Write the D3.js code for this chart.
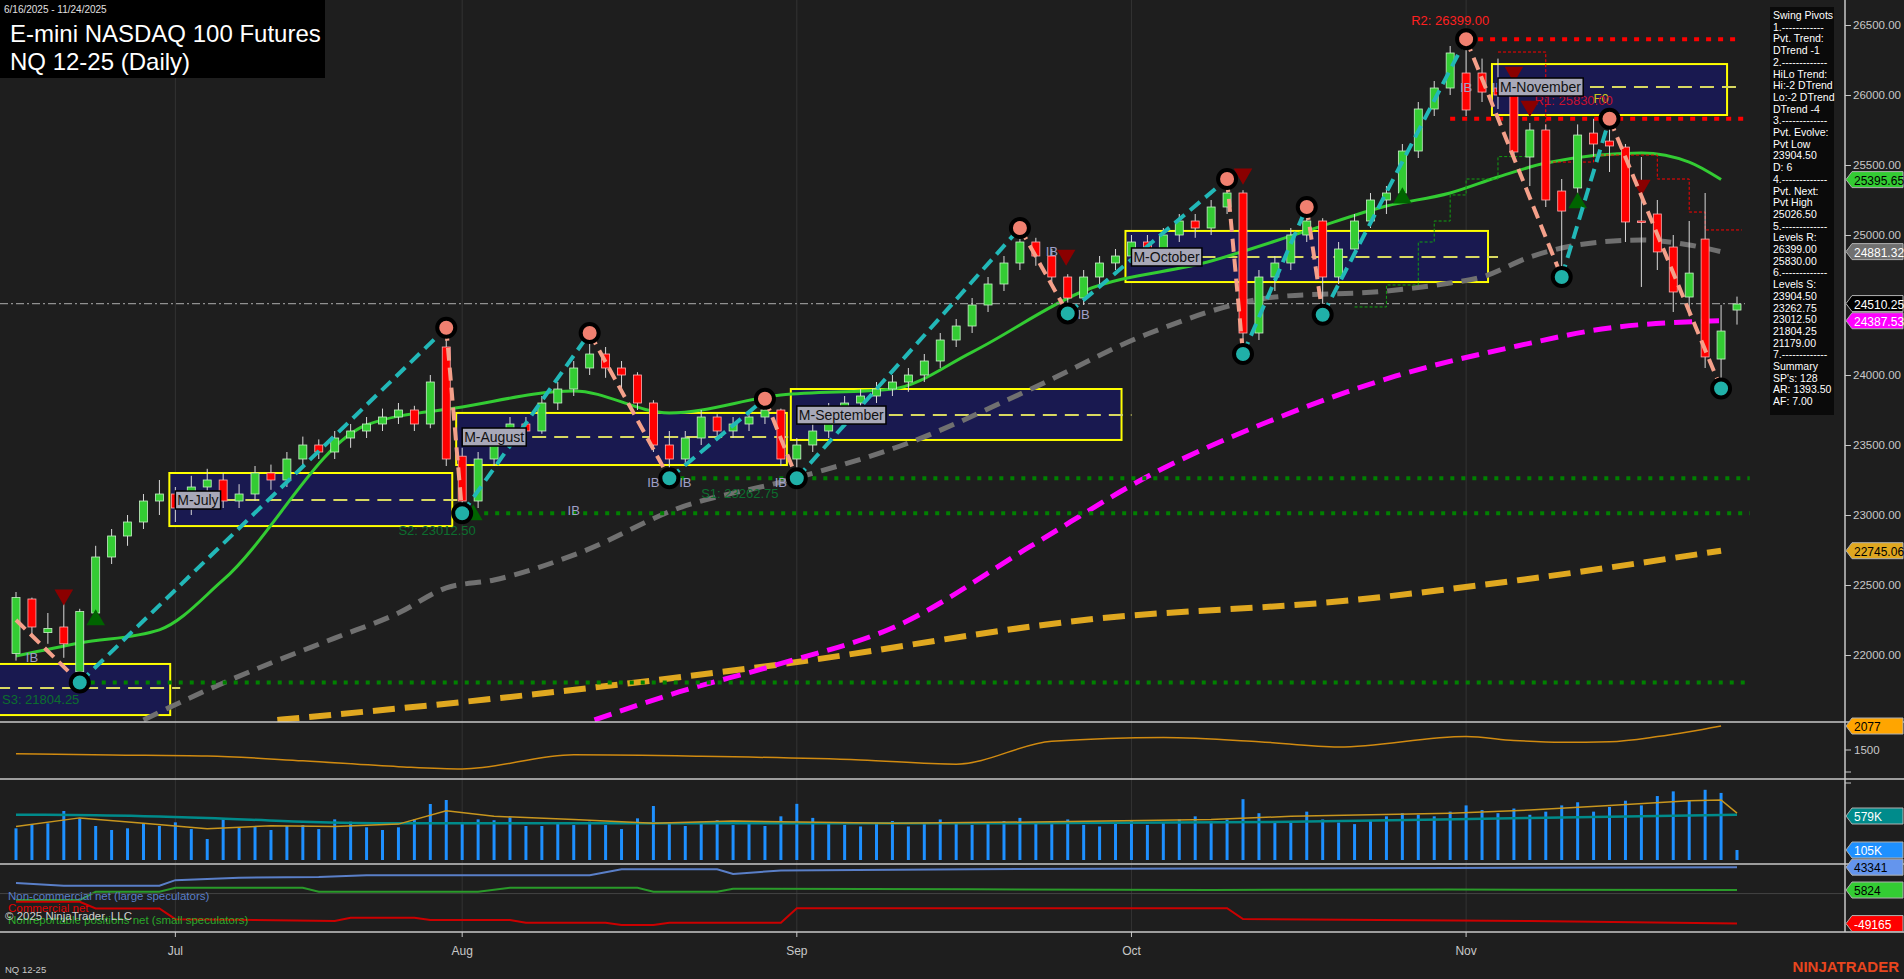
<!DOCTYPE html>
<html><head><meta charset="utf-8">
<script src="https://cdn.jsdelivr.net/npm/d3@7/dist/d3.min.js"></script>
<style>body{margin:0;background:#1e1e1e;overflow:hidden}svg{display:block}text{font-family:"Liberation Sans",Arial,sans-serif}</style>
</head><body><svg id="c" width="1904" height="979"></svg>
<script>
// ---------- DATA ----------
const ohlc = [
[22010,22450,21960,22410],[22400,22410,22150,22200],[22160,22300,22080,22190],[22200,22400,21980,22080],[21880,22330,21804,22310],
[22300,22780,22260,22700],[22700,22900,22650,22850],[22850,23000,22780,22950],[22950,23150,22900,23100],[23100,23250,23000,23150],
[23150,23200,22950,23050],[23050,23280,23000,23200],[23200,23330,23150,23250],[23250,23300,23050,23100],[23100,23220,23050,23150],
[23150,23350,23100,23300],[23300,23360,23180,23250],[23250,23450,23200,23400],[23400,23560,23350,23500],[23500,23540,23400,23450],
[23450,23600,23400,23550],[23550,23650,23480,23600],[23600,23700,23550,23650],[23650,23760,23600,23700],[23700,23800,23650,23750],
[23750,23780,23600,23650],[23650,24000,23620,23950],[24200,24337,23350,23400],[23420,23480,23012,23100],[23100,23450,23050,23400],
[23400,23600,23350,23550],[23550,23700,23500,23650],[23650,23700,23520,23600],[23600,23850,23580,23800],[23800,23950,23750,23900],
[23900,24100,23850,24050],[24050,24300,24000,24150],[24150,24200,23980,24050],[24050,24100,23900,24000],[24000,24020,23750,23800],
[23800,23820,23450,23500],[23500,23600,23262,23400],[23400,23600,23350,23550],[23550,23750,23500,23700],[23700,23720,23550,23600],
[23600,23700,23550,23650],[23650,23750,23600,23700],[23700,23830,23650,23750],[23750,23760,23350,23400],[23400,23550,23262,23500],
[23500,23650,23450,23600],[23600,23800,23550,23750],[23750,23850,23700,23800],[23800,23900,23750,23850],[23850,23950,23800,23900],
[23900,24000,23850,23950],[23950,24050,23880,24000],[24000,24150,23950,24100],[24100,24300,24050,24250],[24250,24400,24200,24350],
[24350,24550,24300,24500],[24500,24700,24450,24650],[24650,24850,24600,24800],[24800,25050,24750,24950],[24950,24980,24780,24850],
[24850,24900,24650,24700],[24700,24720,24440,24550],[24550,24750,24500,24700],[24700,24850,24650,24800],[24800,24900,24750,24850],
[24850,25000,24800,24950],[24950,25000,24850,24900],[24900,25050,24850,25000],[25000,25150,24950,25100],[25100,25150,24980,25050],
[25050,25250,25000,25200],[25200,25400,25150,25300],[25300,25320,24150,24300],[24300,24750,24250,24700],[24700,24850,24600,24800],
[24800,25050,24750,25000],[25000,25200,24950,25100],[25100,25120,24430,24700],[24700,24950,24650,24900],[24900,25150,24850,25100],
[25100,25300,25050,25250],[25250,25350,25150,25300],[25300,25650,25250,25600],[25600,25950,25550,25900],[25900,26100,25850,26050],
[26050,26350,26000,26300],[26157,26399,25850,25893],[26157,26260,25950,26021],[26050,26260,25900,26000],[26107,26200,25550,25593],
[25557,25800,25350,25750],[25750,25790,25200,25250],[25314,25400,24700,25171],[25336,25790,25200,25714],[25728,25830,25560,25650],
[25671,25830,25450,25636],[25628,25650,24950,25093],[25100,25557,24629,25090],[25150,25250,24750,24879],[24914,25000,24450,24593],
[24557,25100,24420,24728],[24971,25300,24050,24129],[24114,24500,23904,24314],[24464,24560,24360,24507]];
const volumeK = [406,462,470,628,534,436,385,406,470,436,483,397,269,521,419,436,385,436,448,397,521,491,419,385,419,521,718,769,462,521,510,547,436,436,470,448,491,448,397,534,692,
470,436,491,510,448,470,436,560,720,540,480,450,430,470,500,430,460,520,480,450,470,500,540,480,460,520,450,430,470,500,
450,480,520,560,500,520,780,600,480,500,620,520,480,460,500,560,600,580,560,620,700,640,600,660,580,620,700,740,620,680,760,700,820,880,760,900,860,128];
const monthLabels = [["Jul",10],["Aug",28],["Sep",49],["Oct",70],["Nov",91]];
const priceTicks = [26500,26000,25500,25000,24000,23500,23000,22500,22000];
const ma20 = [[0,21993],[4,22086],[9,22180],[13,22536],[22,23643],[28,23771],[35,23886],[41,23729],[48,23857],[55,23900],[60,24164],[67,24600],[75,24814],[81,25029],[86,25207],[90,25300],[93,25414],[96,25514],[102,25586],[105,25521],[107,25396]];
const ma50 = [[8,21536],[12,21750],[16,21943],[20,22121],[24,22300],[27,22479],[30,22536],[35.5,22736],[41.6,23050],[48.5,23250],[56,23514],[63.7,23900],[71,24293],[79,24557],[86,24600],[90,24657],[92,24700],[95,24843],[98,24929],[102,24964],[105,24929],[107,24881]];
const ma100 = [[36.3,21536],[41.6,21736],[47.7,21929],[55.4,22214],[63.7,22779],[71.3,23293],[79,23686],[86.6,23993],[94.2,24207],[100,24336],[107,24388]];
const ma200 = [[16.4,21536],[30.4,21693],[47.7,21929],[67.6,22257],[83.7,22390],[94.4,22536],[107,22745]];
const pivots = [[0,22250,"s"],[4,21804,"L"],[27,24337,"H"],[28,23012,"L"],[36,24300,"H"],[41,23262,"L"],[47,23830,"H"],[49,23262,"L"],[63,25050,"H"],[66,24440,"L"],[76,25400,"H"],[77,24150,"L"],[81,25200,"H"],[82,24430,"L"],[91,26399,"H"],[97,24700,"L"],[100,25830,"H"],[107,23904,"L"]];
const monthBoxes = [["",-1.5,9.3,21936,21571,21764],["M-July",10,27,23300,22921,23107],["M-August",28,48,23729,23357,23557],["M-September",49,69,23900,23536,23714],["M-October",70,92,25029,24664,24843],["M-November",93,107,26221,25857,26057]];
const resLines = [["R2: 26399.00",26399,91,108.3],["R1: 25830.00",25830,90,108.8]];
const supLines = [["S1: 23262.75",23262.75,41,108.8],["S2: 23012.50",23012.5,28,108.8],["S3: 21804.25",21804.25,4,108.8]];
const downTri = [[3,22430],[65.9,24857],[77,25436],[94,26164],[95,25921],[102,25357]];
const upTri = [[5,22250],[28.7,23000],[87,25264],[98,25229]];
const ibLabels = [[1,21950],[11,23090],[35,23000],[40,23200],[42,23200],[48,23200],[65,24850],[67,24400],[77,24100],[91,26020],[93,26020]];
const redStair = [[93,26307],[96,25521],[99,25571],[103,25400],[105,25164],[106,25036],[108.3,25036]];
const greenStair = [[84,24486],[86,24643],[88,24950],[89,25100],[90,25286],[91,25400],[93,25560],[95,25607]];
const atr = [[0,1408],[6,1380],[12,1355],[18,1240],[24,1100],[28,1046],[35,1385],[43,1350],[53,1260],[59,1160],[65,1708],[72,1800],[78,1700],[83,1570],[91,1823],[94,1731],[97,1685],[100,1700],[103,1823],[105,1940],[107,2077]];
const volMA = [[0,430],[4,540],[8,470],[12,400],[16,440],[20,430],[24,460],[27,630],[30,560],[35,520],[40,470],[45,500],[55,470],[65,490],[75,520],[80,560],[85,580],[90,600],[95,640],[100,700],[105,760],[107,770],[108,600]];
const volAvg = [[0,580],[5,575],[12,540],[18,490],[24,470],[60,470],[80,490],[95,540],[108,579]];
const cotNonComm = [[0,17300],[3,13000],[9,13000],[10,22000],[14,26000],[19,27000],[22,30000],[36,30000],[38,40000],[44,40000],[45,32000],[48,38000],[60,40000],[75,41000],[90,42000],[108,43341]];
const cotComm = [[0,-13400],[4,-13400],[5,-24300],[9,-24300],[10,-42000],[20,-45000],[21,-39800],[25,-39800],[26,-43400],[31,-43400],[32,-47800],[37,-47800],[38,-51600],[40,-51600],[41,-47800],[48,-47800],[49,-24000],[76,-24000],[77,-41700],[95,-45000],[108,-49165]];
const cotSmall = [[0,-10600],[4,-10600],[5,3000],[9,3000],[10,9600],[18,9600],[19,3000],[29,3000],[31,9600],[39,9600],[40,3000],[44,3000],[45,8000],[60,7000],[75,6000],[90,6500],[108,5824]];
const infoLines = ["Swing Pivots","1.------------","Pvt. Trend:","DTrend -1","2.-------------","HiLo Trend:","Hi:-2 DTrend","Lo:-2 DTrend","DTrend -4","3.-------------","Pvt. Evolve:","Pvt Low","23904.50","D: 6","4.-------------","Pvt. Next:","Pvt High","25026.50","5.-------------","Levels R:","26399.00","25830.00","6.-------------","Levels S:","23904.50","23262.75","23012.50","21804.25","21179.00","7.-------------","Summary","SP's: 128","AR: 1393.50","AF: 7.00"];
const lastPrice = 24510.25;

// ---------- SCALES ----------
const svg = d3.select("#c");
const W = 1904, AX = 1845;
const x = d3.scaleLinear().domain([0,108]).range([16,1737]);
const y = d3.scaleLinear().domain([26500,22000]).range([25,655]);
const yAtr = d3.scaleLinear().domain([1500,2077]).range([750,726]);
const yVol = d3.scaleLinear().domain([0,1000]).range([860,782]);
const yCot = d3.scaleLinear().domain([-63000,48500]).range([932,864]);
const bw = 8;

svg.append("rect").attr("width",W).attr("height",979).attr("fill","#1e1e1e");
const defs = svg.append("defs");
defs.append("clipPath").attr("id","mainClip").append("rect").attr("x",0).attr("y",0).attr("width",AX).attr("height",722);
defs.append("clipPath").attr("id","atrClip").append("rect").attr("x",0).attr("y",722).attr("width",AX).attr("height",57);

monthLabels.forEach(([t,i])=>{
  svg.append("line").attr("x1",x(i)).attr("x2",x(i)).attr("y1",0).attr("y2",932).attr("stroke","#333").attr("stroke-width",1);
});

const main = svg.append("g").attr("clip-path","url(#mainClip)");

monthBoxes.forEach(([lab,i0,i1,top,bot,mid])=>{
  const x0=x(i0)-6, x1=x(i1)+6;
  main.append("rect").attr("x",x0).attr("y",y(top)).attr("width",x1-x0).attr("height",y(bot)-y(top)).attr("fill","#191950").attr("stroke","#ffff00").attr("stroke-width",2);
  main.append("line").attr("x1",x0+10).attr("x2",x1+10).attr("y1",y(mid)).attr("y2",y(mid)).attr("stroke","#d8d860").attr("stroke-width",2).attr("stroke-dasharray","14,8");
});
main.append("text").attr("x",x(99)).attr("y",y(26000)+8).attr("fill","#c8c820").attr("font-size",13).text("F0");

const ln = d3.line().x(d=>x(d[0])).y(d=>y(d[1])).curve(d3.curveMonotoneX);
main.append("path").attr("d",ln(ma200)).attr("fill","none").attr("stroke","#e0a820").attr("stroke-width",6).attr("stroke-dasharray","22,10");
main.append("path").attr("d",ln(ma100)).attr("fill","none").attr("stroke","#ff00ff").attr("stroke-width",5).attr("stroke-dasharray","18,9");
main.append("path").attr("d",ln(ma50)).attr("fill","none").attr("stroke","#707070").attr("stroke-width",5).attr("stroke-dasharray","16,9");
main.append("path").attr("d",ln(ma20)).attr("fill","none").attr("stroke","#33cc33").attr("stroke-width",3);

supLines.forEach(([lab,v,i0,i1])=>{
  main.append("line").attr("x1",x(i0)).attr("x2",x(i1)).attr("y1",y(v)).attr("y2",y(v)).attr("stroke","#008000").attr("stroke-width",4).attr("stroke-dasharray","4,7");
});
main.append("text").attr("x",x(43)).attr("y",y(23262.75)+20).attr("fill","#0c6e2e").attr("font-size",13).text(supLines[0][0]);
main.append("text").attr("x",x(24)).attr("y",y(23012.5)+22).attr("fill","#0c6e2e").attr("font-size",13).text(supLines[1][0]);
main.append("text").attr("x",2).attr("y",y(21804.25)+22).attr("fill","#0c6e2e").attr("font-size",13).text(supLines[2][0]);
resLines.forEach(([lab,v,i0,i1])=>{
  main.append("line").attr("x1",x(i0)).attr("x2",x(i1)).attr("y1",y(v)).attr("y2",y(v)).attr("stroke","#ff0000").attr("stroke-width",4).attr("stroke-dasharray","5,7");
});
main.append("text").attr("x",x(90)).attr("y",y(26399)-14).attr("text-anchor","middle").attr("fill","#ff2020").attr("font-size",13).text(resLines[0][0]);
main.append("text").attr("x",x(95.3)).attr("y",y(25830)-14).attr("fill","#c8102e").attr("font-size",13).text(resLines[1][0]);

const st = d3.line().x(d=>x(d[0])).y(d=>y(d[1])).curve(d3.curveStepAfter);
main.append("path").attr("d",st(redStair)).attr("fill","none").attr("stroke","#ff0000").attr("stroke-width",1).attr("stroke-dasharray","3,2");
main.append("path").attr("d",st(greenStair)).attr("fill","none").attr("stroke","#11a011").attr("stroke-width",1).attr("stroke-dasharray","3,2");

main.append("line").attr("x1",0).attr("x2",x(108.5)).attr("y1",y(lastPrice)).attr("y2",y(lastPrice)).attr("stroke","#909090").attr("stroke-width",1.2).attr("stroke-dasharray","8,3,2,3");

const cg = main.append("g");
ohlc.forEach((d,i)=>{
  const [o,h,l,c]=d, up=c>=o;
  cg.append("line").attr("x1",x(i)).attr("x2",x(i)).attr("y1",y(h)).attr("y2",y(l)).attr("stroke","#d8d8d8").attr("stroke-width",1);
  cg.append("rect").attr("x",x(i)-bw/2).attr("y",y(Math.max(o,c))).attr("width",bw).attr("height",Math.max(1.5,Math.abs(y(o)-y(c))))
    .attr("fill",up?"#33cc33":"#ff0000").attr("stroke",up?"#c8f0c8":"#ffb0b0").attr("stroke-width",0.8);
});

const tri = d3.symbol().type(d3.symbolTriangle).size(150);
downTri.forEach(([i,v])=>main.append("path").attr("d",tri()).attr("transform",`translate(${x(i)},${y(v)}) rotate(180)`).attr("fill","#8b0000"));
upTri.forEach(([i,v])=>main.append("path").attr("d",tri()).attr("transform",`translate(${x(i)},${y(v)})`).attr("fill","#006400"));
ibLabels.forEach(([i,v])=>main.append("text").attr("x",x(i)).attr("y",y(v)).attr("text-anchor","middle").attr("fill","#a0a0c8").attr("font-size",13).text("IB"));

for(let k=1;k<pivots.length;k++){
  const a=pivots[k-1], b=pivots[k];
  main.append("line").attr("x1",x(a[0])).attr("y1",y(a[1])).attr("x2",x(b[0])).attr("y2",y(b[1]))
   .attr("stroke",b[1]>a[1]?"#22b8b8":"#f4a08a").attr("stroke-width",4).attr("stroke-dasharray","13,7");
}
pivots.filter(p=>p[2]!="s").forEach(p=>{
  main.append("circle").attr("cx",x(p[0])).attr("cy",y(p[1])).attr("r",9).attr("fill",p[2]=="H"?"#f08070":"#20b0a8").attr("stroke","#000").attr("stroke-width",4);
});

monthBoxes.forEach(([lab,i0,i1,top,bot,mid])=>{
  if(!lab) return;
  const g=main.append("g");
  const t=g.append("text").attr("x",x(i0)+2).attr("y",y(mid)+5).attr("font-family","Liberation Serif").attr("font-size",14).attr("fill","#111").text(lab);
  const bb=t.node().getBBox();
  g.insert("rect","text").attr("x",bb.x-2).attr("y",bb.y-1).attr("width",bb.width+4).attr("height",bb.height+2).attr("fill","#a8a8b8").attr("stroke","#000").attr("stroke-width",1.5);
});

svg.append("path").attr("clip-path","url(#atrClip)").attr("d",d3.line().x(d=>x(d[0])).y(d=>yAtr(d[1])).curve(d3.curveMonotoneX)(atr)).attr("fill","none").attr("stroke","#d08a10").attr("stroke-width",1.5);

volumeK.forEach((v,i)=>svg.append("line").attr("x1",x(i)).attr("x2",x(i)).attr("y1",860).attr("y2",yVol(v)).attr("stroke","#1e90ff").attr("stroke-width",3));
svg.append("path").attr("d",d3.line().x(d=>x(d[0])).y(d=>yVol(d[1])).curve(d3.curveMonotoneX)(volAvg)).attr("fill","none").attr("stroke","#008b8b").attr("stroke-width",2.5);
svg.append("path").attr("d",d3.line().x(d=>x(d[0])).y(d=>yVol(d[1]))(volMA)).attr("fill","none").attr("stroke","#c8961e").attr("stroke-width",1.5);

const cl = d3.line().x(d=>x(d[0])).y(d=>yCot(d[1]));
svg.append("path").attr("d",cl(cotNonComm)).attr("fill","none").attr("stroke","#5a7fc8").attr("stroke-width",2);
svg.append("path").attr("d",cl(cotSmall)).attr("fill","none").attr("stroke","#2a9a2a").attr("stroke-width",2);
svg.append("path").attr("d",cl(cotComm)).attr("fill","none").attr("stroke","#cc0000").attr("stroke-width",2);
svg.append("line").attr("x1",0).attr("x2",AX).attr("y1",yCot(0)).attr("y2",yCot(0)).attr("stroke","#444");
const leg=[["Non-commercial net (large speculators)","#5a7fc8",900],["Commercial net","#e00000",912],["Nonreportable positions net (small speculators)","#2aa82a",924]];
leg.forEach(([t,c,yy])=>svg.append("text").attr("x",8).attr("y",yy).attr("fill",c).attr("font-size",11.5).text(t));
svg.append("text").attr("x",5).attr("y",920).attr("fill","#d0d0d0").attr("font-size",11.5).text("© 2025 NinjaTrader, LLC");

[722,779,864,932].forEach(yy=>svg.append("line").attr("x1",0).attr("x2",W).attr("y1",yy).attr("y2",yy).attr("stroke","#c8c8c8").attr("stroke-width",1.5));
svg.append("line").attr("x1",AX).attr("x2",AX).attr("y1",0).attr("y2",932).attr("stroke","#c8c8c8").attr("stroke-width",1.5);
const ya = d3.axisRight(y).tickValues(priceTicks).tickSize(6).tickFormat(d3.format(".2f"));
const ag = svg.append("g").attr("transform",`translate(${AX},0)`).call(ya);
ag.select(".domain").remove();
ag.selectAll("line").attr("stroke","#c8c8c8");
ag.selectAll("text").attr("fill","#c8c8c8").attr("font-size",11.5).attr("font-family","Liberation Sans").attr("x",8);
svg.append("line").attr("x1",AX).attr("x2",AX+6).attr("y1",yAtr(1500)).attr("y2",yAtr(1500)).attr("stroke","#c8c8c8");
svg.append("text").attr("x",AX+9).attr("y",yAtr(1500)+4).attr("fill","#c8c8c8").attr("font-size",11.5).text("1500");
svg.append("line").attr("x1",AX).attr("x2",AX+6).attr("y1",772).attr("y2",772).attr("stroke","#c8c8c8");
svg.append("line").attr("x1",AX).attr("x2",AX+6).attr("y1",783).attr("y2",783).attr("stroke","#c8c8c8");

monthLabels.forEach(([t,i])=>{
  svg.append("line").attr("x1",x(i)).attr("x2",x(i)).attr("y1",932).attr("y2",937).attr("stroke","#c8c8c8");
  svg.append("text").attr("x",x(i)).attr("y",955).attr("text-anchor","middle").attr("fill","#c8c8c8").attr("font-size",12).text(t);
});
svg.append("text").attr("x",5).attr("y",973).attr("fill","#c8c8c8").attr("font-size",9.5).text("NQ 12-25");

function tag(yy,txt,bg,fg){
  const g=svg.append("g");
  g.append("path").attr("d",`M${AX+1},${yy} L${AX+7},${yy-8} L${W-1},${yy-8} L${W-1},${yy+8} L${AX+7},${yy+8} Z`).attr("fill",bg).attr("stroke","#b0b0b0").attr("stroke-width",1);
  g.append("text").attr("x",AX+9).attr("y",yy+5).attr("fill",fg).attr("font-size",12).text(txt);
}
tag(y(25395.65),"25395.65","#33cc33","#000");
tag(y(24881.32),"24881.32","#707070","#fff");
tag(y(lastPrice),"24510.25","#000","#fff");
tag(y(24387.53),"24387.53","#ff00ff","#fff");
tag(y(22745.06),"22745.06","#e0a820","#000");
tag(yAtr(2077),"2077","#ffa500","#000");
tag(816,"579K","#008b8b","#fff");
tag(850,"105K","#1e90ff","#fff");
tag(yCot(43341),"43341","#6495ed","#000");
tag(yCot(5824),"5824","#33cc33","#000");
tag(yCot(-49165),"-49165","#ff0000","#fff");

svg.append("rect").attr("x",1770).attr("y",7).attr("width",64).attr("height",408).attr("fill","#0a0a0a");
infoLines.forEach((t,k)=>svg.append("text").attr("x",1773).attr("y",19+k*11.7).attr("fill","#fff").attr("font-size",10.5).text(t));

svg.append("rect").attr("x",0).attr("y",0).attr("width",325).attr("height",78).attr("fill","#000");
svg.append("text").attr("x",4).attr("y",13).attr("fill","#e0e0e0").attr("font-size",10).text("6/16/2025 - 11/24/2025");
svg.append("text").attr("x",10).attr("y",42).attr("fill","#fff").attr("font-size",24).text("E-mini NASDAQ 100 Futures");
svg.append("text").attr("x",10).attr("y",70).attr("fill","#fff").attr("font-size",24).text("NQ 12-25 (Daily)");
svg.append("text").attr("x",1899).attr("y",972).attr("text-anchor","end").attr("fill","#e8461e").attr("font-size",15).attr("font-weight","bold").text("NINJATRADER");
</script></body></html>
